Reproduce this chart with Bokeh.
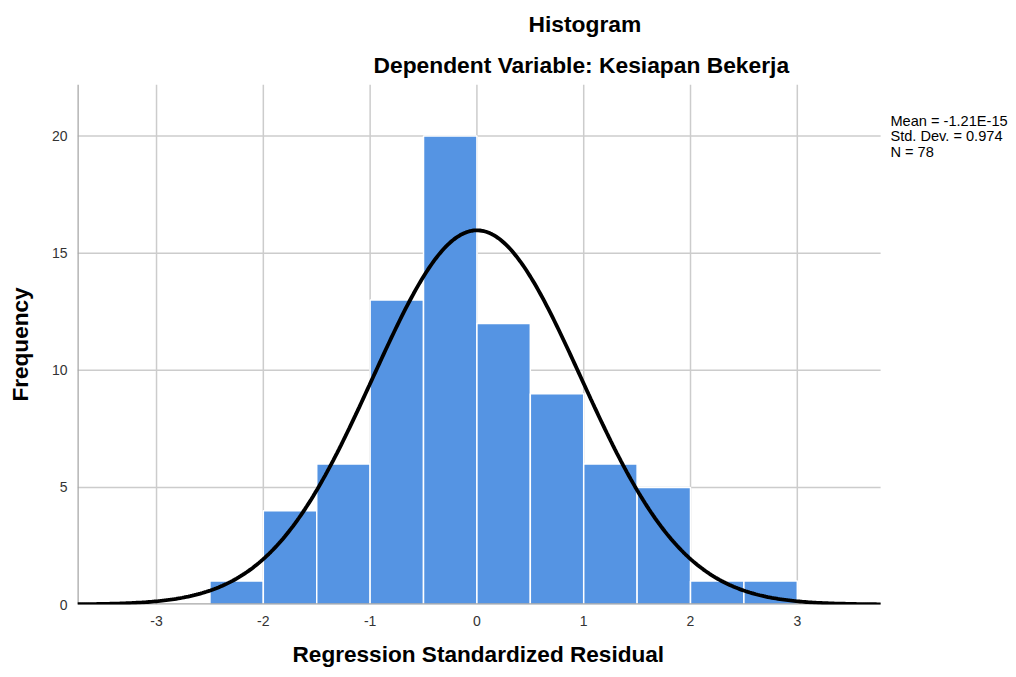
import numpy as np
from bokeh.plotting import figure
from bokeh.models import Range1d, FixedTicker, Title
from bokeh.core.properties import value
from bokeh.embed import file_html
from bokeh.resources import INLINE

# Data
bin_left = [-2.5, -2.0, -1.5, -1.0, -0.5, 0.0, 0.5, 1.0, 1.5, 2.0, 2.5]
bin_right = [-2.0, -1.5, -1.0, -0.5, 0.0, 0.5, 1.0, 1.5, 2.0, 2.5, 3.0]
counts = [1, 4, 6, 13, 20, 12, 9, 6, 5, 1, 1]
mean = -1.21e-15
std_dev = 0.974
n_obs = 78
bin_width = 0.5
x_ticks = [-3, -2, -1, 0, 1, 2, 3]
x_tick_labels = ["-3", "-2", "-1", "0", "1", "2", "3"]
y_ticks = [0, 5, 10, 15, 20]
title_text = "Histogram"
subtitle_text = "Dependent Variable: Kesiapan Bekerja"
x_label = "Regression Standardized Residual"
y_label = "Frequency"
stats_lines = ["Mean = -1.21E-15", "Std. Dev. = 0.974", "N = 78"]

FONT = "Liberation Sans"

# plot area (in data units)
X0, X1 = -3.74, 3.78
Y0, Y1 = 0.0, 22.2

p = figure(frame_width=935, frame_height=520, output_backend="svg", toolbar_location=None,
           x_range=Range1d(X0, 5.015), y_range=Range1d(Y0, Y1),
           min_border_left=77, min_border_right=0, min_border_top=84,
           min_border_bottom=70)
p.outline_line_color = None
p.background_fill_color = "white"
p.xgrid.visible = False
p.ygrid.visible = False

# titles (first added sits closest to the plot)
p.add_layout(Title(text=subtitle_text, align="left", offset=296, standoff=13,
                   text_font=FONT, text_font_style="bold", text_font_size="22.8px",
                   text_color="black"), "above")
p.add_layout(Title(text=title_text, align="left", offset=451, standoff=14,
                   text_font=FONT, text_font_style="bold", text_font_size="22.8px",
                   text_color="black"), "above")
# x-axis title, centred under the plotting area (not the whole frame)
p.add_layout(Title(text=x_label, align="left", offset=215, standoff=23,
                   text_font=FONT, text_font_style="bold", text_font_size="22.6px",
                   text_color="black"), "below")

# gridlines
grid_x = [t for t in x_ticks]
p.segment(x0=grid_x, y0=[Y0] * len(grid_x), x1=grid_x, y1=[Y1] * len(grid_x),
          line_color="#cccccc", line_width=1.5)
grid_y = [t for t in y_ticks if t > 0]
p.segment(x0=[X0] * len(grid_y), y0=grid_y, x1=[X1] * len(grid_y), y1=grid_y,
          line_color="#cccccc", line_width=1.5)

p.quad(left=bin_left, right=bin_right, bottom=0, top=counts,
       fill_color="#5594e3", line_color="white", line_width=1.5)

# axis lines
p.segment(x0=[X0, X0], y0=[Y0, Y0], x1=[X0, X1], y1=[Y1, Y0],
          line_color="#a6a6a6", line_width=2.5)

xs = np.linspace(X0, X1, 400)
ys = n_obs * bin_width / (std_dev * np.sqrt(2 * np.pi)) * np.exp(-0.5 * ((xs - mean) / std_dev) ** 2)
p.line(xs, ys, line_color="black", line_width=3.8)

p.xaxis.ticker = FixedTicker(ticks=x_ticks)
p.yaxis.ticker = FixedTicker(ticks=y_ticks)
p.xaxis.major_label_overrides = {t: s for t, s in zip(x_ticks, x_tick_labels)}
for ax in (p.xaxis[0], p.yaxis[0]):
    ax.major_tick_line_color = None
    ax.minor_tick_line_color = None
    ax.axis_line_color = None
    ax.major_label_text_font = FONT
    ax.major_label_text_font_size = "14px"
    ax.major_label_text_color = "#333333"
    ax.axis_label_text_font = FONT
    ax.axis_label_text_font_style = "bold"
    ax.axis_label_text_font_size = "22.6px"
    ax.axis_label_text_color = "black"

p.yaxis.axis_label = y_label
p.xaxis.major_label_standoff = 5
p.yaxis.major_label_standoff = 4
p.yaxis.axis_label_standoff = 16

# statistics box
p.text(x=[3.872] * 3, y=[20.64, 20.0, 19.32], text=stats_lines,
       text_align="left", text_baseline="middle", text_font=value(FONT),
       text_font_size="14.6px", text_color="black")

open("out.html", "w").write(file_html(p, INLINE))
